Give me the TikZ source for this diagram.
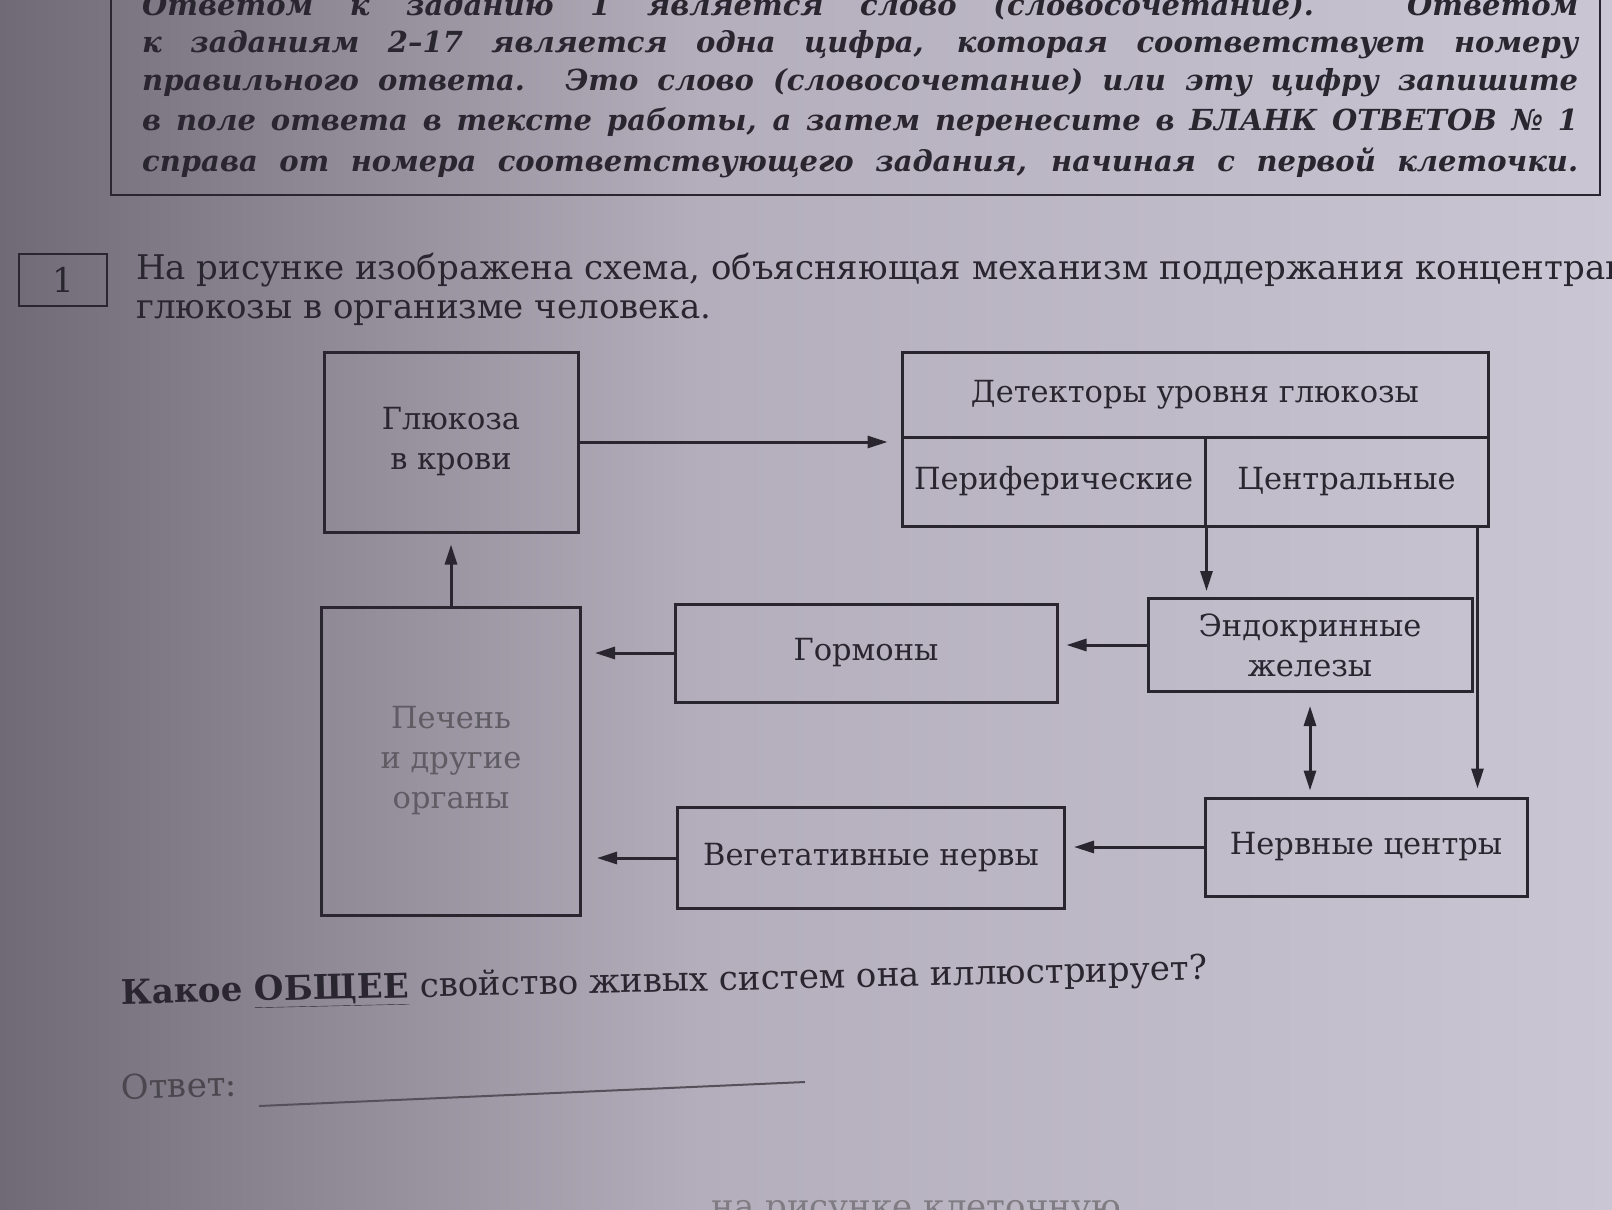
\documentclass[tikz,border=0pt]{standalone}
\usepackage{fontspec}
\setmainfont{DejaVu Serif}
\usetikzlibrary{arrows.meta}
\definecolor{ink}{RGB}{42,38,48}
\definecolor{paperL}{RGB}{112,106,118}
\definecolor{paperM}{RGB}{180,174,188}
\definecolor{paperR}{RGB}{202,198,212}
\newcommand{\boxfont}{\fontsize{30.5}{40}\selectfont}
\newcommand{\headfont}{\fontsize{29}{36}\selectfont\bfseries\itshape}
\newcommand{\qfont}{\fontsize{34}{40}\selectfont}

\tikzset{
  box/.style={draw=ink, line width=3pt, align=center, font=\boxfont, text=ink, inner sep=0pt},
  arr/.style={draw=ink, line width=3pt, -{Triangle[length=20pt,width=12pt]}},
  darr/.style={draw=ink, line width=3pt, {Triangle[length=20pt,width=12pt]}-{Triangle[length=20pt,width=12pt]}},
  txtline/.style={text=ink, anchor=base west, inner sep=0pt}
}

\begin{document}
\begin{tikzpicture}[x=1pt,y=-1pt]
\useasboundingbox (0,0) rectangle (1612,1210);
\clip (0,0) rectangle (1612,1210);
\shade[left color=paperL, right color=paperM] (0,0) rectangle (700,1210);
\shade[left color=paperM, right color=paperR] (700,0) rectangle (1612,1210);

% header
\draw[ink, line width=2pt] (111,-10) -- (111,195) -- (1600,195) -- (1600,-10);
\node[txtline, font=\headfont] (h1) at (142,15) {\makebox[1436pt][s]{Ответом к заданию 1 является слово (словосочетание). Ответом}};
\node[txtline, font=\headfont] (h2) at (142,52) {\makebox[1436pt][s]{к заданиям 2–17 является одна цифра, которая соответствует номеру}};
\node[txtline, font=\headfont] (h3) at (142,90) {\makebox[1436pt][s]{правильного ответа. Это слово (словосочетание) или эту цифру запишите}};
\node[txtline, font=\headfont] (h4) at (142,130) {\makebox[1436pt][s]{в поле ответа в тексте работы, а затем перенесите в БЛАНК ОТВЕТОВ № 1}};
\node[txtline, font=\headfont] (h5) at (142,171) {\makebox[1436pt][s]{справа от номера соответствующего задания, начиная с первой клеточки.}};

% question
\node[draw=ink, line width=1.5pt, minimum width=88pt, minimum height=52pt, font=\qfont, text=ink] (num) at (63,280) {1};
\node[txtline, font=\qfont] (q1) at (136,279) {На рисунке изображена схема, объясняющая механизм поддержания концентрации};
\node[txtline, font=\qfont] (q2) at (136,318) {глюкозы в организме человека.};

% scheme
\node[box, minimum width=254pt, minimum height=180pt] (glu) at (451,442) {Глюкоза\\в крови};
\node[box, minimum width=586pt, minimum height=85pt] (det) at (1195,394.5) {Детекторы уровня глюкозы};
\node[box, minimum width=303pt, minimum height=89pt] (per) at (1053.5,481.5) {Периферические};
\node[box, minimum width=283pt, minimum height=89pt] (cen) at (1346.5,481.5) {Центральные};
\node[box, minimum width=259pt, minimum height=308pt, text=ink!75] (liv) at (451,761) {Печень\\и другие\\органы};
\node[box, minimum width=382pt, minimum height=98pt] (hor) at (866,653) {Гормоны};
\node[box, minimum width=324pt, minimum height=93pt] (endo) at (1310,645) {Эндокринные\\железы};
\node[box, minimum width=387pt, minimum height=101pt] (veg) at (871,858) {Вегетативные нервы};
\node[box, minimum width=322pt, minimum height=98pt] (ner) at (1366,847) {Нервные центры};

\draw[arr, shorten >=13pt] (glu.east) -- (glu.east -| det.west);
\draw[arr, shorten >=11pt] (liv.north) -- (glu.south);
\draw[arr, shorten >=6pt] (per.south east) -- (per.south east |- endo.north);
\draw[arr, shorten >=8pt] ([xshift=-12pt]cen.south east) -- ([xshift=-12pt]cen.south east |- ner.north);
\draw[arr, shorten >=8pt] (endo.west) -- (endo.west -| hor.east);
\draw[arr, shorten >=13pt] (hor.west) -- (hor.west -| liv.east);
\draw[darr, shorten <=13pt, shorten >=6pt] (endo.south) -- (endo.south |- ner.north);
\draw[arr, shorten >=8pt] (ner.west) -- (ner.west -| veg.east);
\draw[arr, shorten >=15pt] (veg.west) -- (veg.west -| liv.east);

% answer
\node[txtline, font=\qfont, rotate=1.3] (ask) at (121,1004) {\textbf{Какое \underline{ОБЩЕЕ}} свойство живых систем она иллюстрирует?};
\node[txtline, font=\qfont, rotate=1.5, text=ink!85] (ans) at (121,1099) {Ответ:};
\coordinate (l1) at (259,1106);
\coordinate (l2) at (805,1082);
\draw[ink!80, line width=2pt] (l1) -- (l2);
\node[text=ink!60, font=\qfont, anchor=base east, inner sep=0pt] (tail) at (1121,1218) {на рисунке клеточную};
\end{tikzpicture}
\end{document}
